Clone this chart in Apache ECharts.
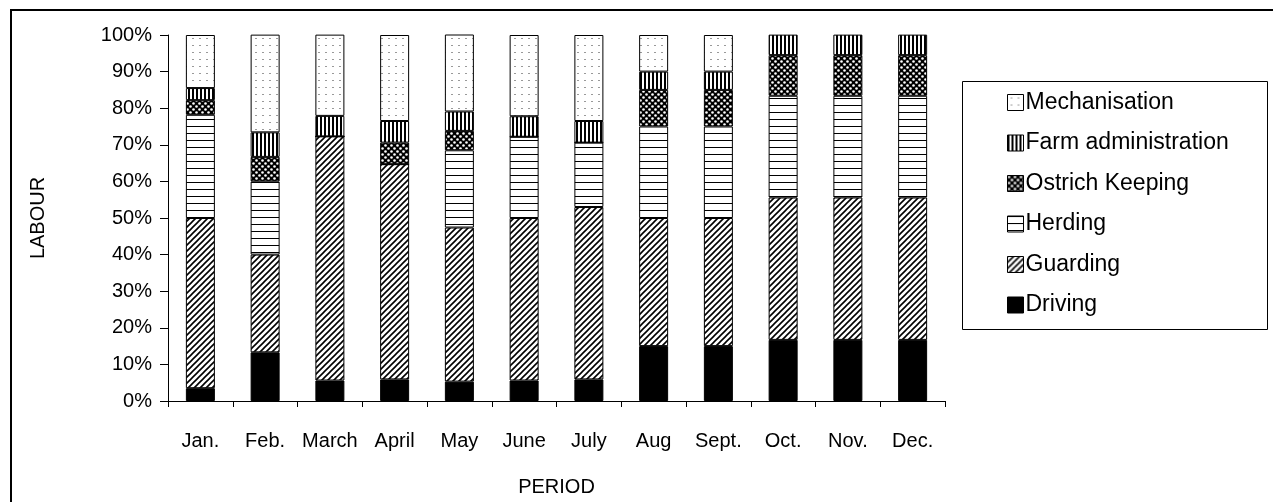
<!DOCTYPE html>
<html>
<head>
<meta charset="utf-8">
<script src="https://cdn.jsdelivr.net/npm/echarts@6/dist/echarts.min.js"></script>
<style>
html,body{margin:0;padding:0;background:#fff;}
#chart{width:1273px;height:502px;}
</style>
</head>
<body>
<div id="chart"></div>
<script>
// ---- data ----
const categories = ['Jan.', 'Feb.', 'March', 'April', 'May', 'June', 'July', 'Aug', 'Sept.', 'Oct.', 'Nov.', 'Dec.'];
const driving      = [3.5, 13.3, 5.6, 5.9, 5.3, 5.6, 5.9, 15, 15, 16.7, 16.7, 16.7];
const guarding     = [46.5, 26.7, 66.7, 58.8, 42.1, 44.4, 47.1, 35, 35, 38.9, 38.9, 38.9];
const herding      = [28.2, 20, 0, 0, 21.1, 22.2, 17.6, 25, 25, 27.8, 27.8, 27.8];
const ostrich      = [4, 6.7, 0, 5.9, 5.3, 0, 0, 10, 10, 11.1, 11.1, 11.1];
const farmAdmin    = [3.3, 6.7, 5.6, 5.9, 5.3, 5.6, 5.9, 5, 5, 5.6, 5.6, 5.6];
const mechanisation= [14.5, 26.7, 22.2, 23.5, 21.1, 22.2, 23.5, 10, 10, 0, 0, 0];
const seriesNames = ['Driving', 'Guarding', 'Herding', 'Ostrich Keeping', 'Farm administration', 'Mechanisation'];
const yTicks = [0, 10, 20, 30, 40, 50, 60, 70, 80, 90, 100];

// ---- patterns ----
function tile(w, h, draw) {
  const c = document.createElement('canvas');
  c.width = w; c.height = h;
  const ctx = c.getContext('2d');
  ctx.fillStyle = '#fff';
  ctx.fillRect(0, 0, w, h);
  draw(ctx, w, h);
  return { image: c, repeat: 'repeat' };
}
const pDriving = '#000';
const pGuarding = tile(6, 6, (ctx) => {
  ctx.strokeStyle = '#000'; ctx.lineWidth = 1.6;
  ctx.beginPath();
  ctx.moveTo(-1, 7); ctx.lineTo(7, -1);
  ctx.moveTo(-4, 4); ctx.lineTo(4, -4);
  ctx.moveTo(2, 10); ctx.lineTo(10, 2);
  ctx.stroke();
});
const pHerding = tile(4, 7, (ctx) => { ctx.fillStyle = '#000'; ctx.fillRect(0, 0, 4, 1); });
const pOstrich = tile(6, 6, (ctx) => {
  ctx.fillStyle = '#000'; ctx.fillRect(0, 0, 6, 6);
  ctx.fillStyle = '#fff';
  ctx.beginPath(); ctx.arc(1.5, 1.5, 1.3, 0, Math.PI * 2); ctx.fill();
  ctx.beginPath(); ctx.arc(4.5, 4.5, 1.3, 0, Math.PI * 2); ctx.fill();
});
const pFarm = tile(4, 4, (ctx) => { ctx.fillStyle = '#000'; ctx.fillRect(0, 0, 2, 4); });
const pMech = tile(7, 7, (ctx) => { ctx.fillStyle = '#999'; ctx.fillRect(3, 3, 2, 1); });

const patterns = [pDriving, pGuarding, pHerding, pOstrich, pFarm, pMech];
const values = [driving, guarding, herding, ostrich, farmAdmin, mechanisation];

const font = 'Liberation Sans, Arial, sans-serif';

const chart = echarts.init(document.getElementById('chart'), null, { renderer: 'canvas' });
chart.setOption({
  animation: false,
  backgroundColor: '#fff',
  textStyle: { fontFamily: font, color: '#000' },
  grid: { left: 168, top: 35, width: 777, height: 373 },
  graphic: [
    { type: 'rect', shape: { x: 11, y: 10, width: 1300, height: 600 }, style: { fill: 'none', stroke: '#000', lineWidth: 2 }, silent: true, z: -10 },
    { type: 'rect', shape: { x: 962.5, y: 81.5, width: 305, height: 248 }, style: { fill: '#fff', stroke: '#000', lineWidth: 1 }, silent: true, z: -5 }
  ],
  legend: {
    orient: 'vertical',
    left: 1002,
    top: 86,
    itemWidth: 16,
    itemHeight: 16,
    itemGap: 17.5,
    icon: 'rect',
    data: seriesNames.slice().reverse(),
    textStyle: { fontFamily: font, fontSize: 23, color: '#000', lineHeight: 23, padding: [0, 0, 0, -3] },
    itemStyle: { borderColor: '#000', borderWidth: 1 }
  },
  xAxis: {
    type: 'category',
    data: categories,
    name: 'PERIOD',
    nameLocation: 'middle',
    nameGap: 76,
    nameTextStyle: { fontFamily: font, fontSize: 20, color: '#000' },
    axisLine: { lineStyle: { color: '#000', width: 1 } },
    axisTick: { show: true, length: 6, lineStyle: { color: '#000' }, alignWithLabel: false },
    axisLabel: { fontFamily: font, fontSize: 20, color: '#000', margin: 30, interval: 0 }
  },
  yAxis: {
    type: 'value',
    min: 0, max: 100, interval: 10,
    name: 'LABOUR',
    nameLocation: 'middle',
    nameRotate: 90,
    nameGap: 120,
    nameTextStyle: { fontFamily: font, fontSize: 20, color: '#000' },
    axisLine: { show: true, lineStyle: { color: '#000', width: 1 } },
    axisTick: { show: true, length: 8, lineStyle: { color: '#000' } },
    splitLine: { show: false },
    axisLabel: { fontFamily: font, fontSize: 20, color: '#000', margin: 16,
      formatter: (v) => yTicks.includes(v) ? v + '%' : '' }
  },
  series: seriesNames.map((name, i) => ({
    name: name,
    type: 'bar',
    stack: 'total',
    barWidth: 29,
    data: values[i],
    itemStyle: { color: patterns[i], borderColor: '#000', borderWidth: 1 }
  }))
});
</script>
</body>
</html>
